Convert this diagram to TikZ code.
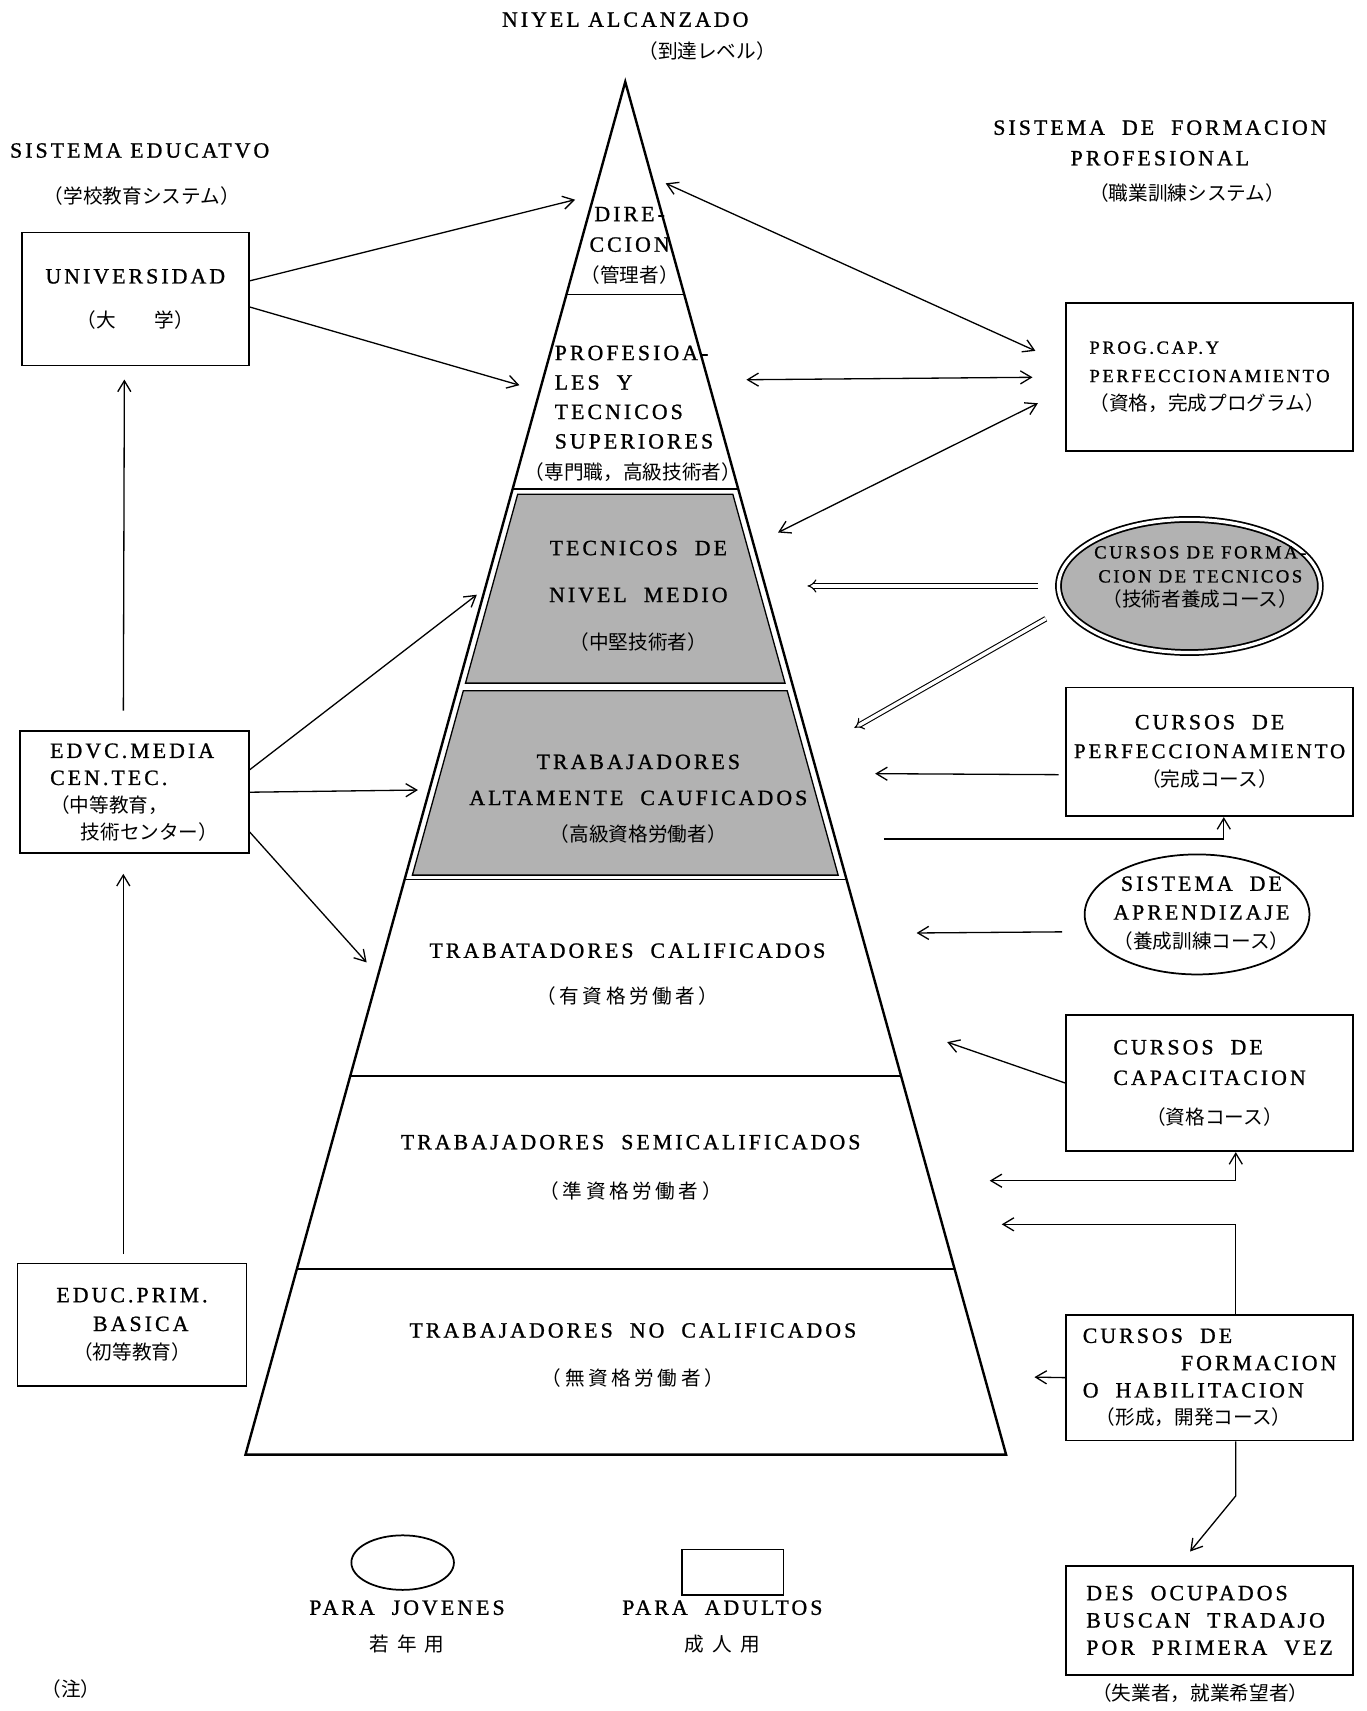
\documentclass[tikz,border=0pt]{standalone}
\usepackage{fontspec}
\setmainfont{Liberation Serif}[LetterSpace=14, FakeBold=1]
\newfontfamily\jpf{Noto Sans CJK JP}
\newfontfamily\jpw{Noto Sans CJK JP}[LetterSpace=18]
\newcommand\jt[1]{{\jpf\fontsize{9}{11}\selectfont #1}}
\newcommand\jw[1]{{\jpw\fontsize{9}{11}\selectfont #1}}
\usetikzlibrary{arrows.meta,shapes.geometric}

\tikzset{
  lab/.style={font=\fontsize{10}{#1}\selectfont, align=center, inner sep=0pt},
  lab/.default=13,
  box/.style={draw, line width=.8pt, inner sep=0pt},
  oval/.style={draw, ellipse, line width=.8pt, inner sep=0pt},
  arr/.style={->, line width=.6pt},
  dbl/.style={<->, line width=.6pt},
  hollow/.style={double, double distance=1.6pt, line width=.5pt, -{Implies[scale=1.4]}},
  shade/.style={fill=black!30, draw, line width=.6pt},
}

\begin{document}
\begin{tikzpicture}[x=.5pt,y=-.5pt,>={Straight Barb[length=5pt,width=6pt]}]
\useasboundingbox (0,0) rectangle (1252,1568);
%
% piramide
\coordinate (apex) at (573,75);
\coordinate (bl) at (225,1333);
\coordinate (br) at (922,1333);
\draw[shade] (474.4,453) -- (671.6,453) -- (719.4,626) -- (426.6,626) -- cycle;
\draw[shade] (424.6,633) -- (721.4,633) -- (768.1,802) -- (377.9,802) -- cycle;
\draw[line width=1.1pt] (apex) -- (bl) -- (br) -- cycle;
\draw[line width=.6pt] (519.1,270) -- (626.9,270);
\draw[line width=.6pt] (469.8,448) -- (676.2,448);
\draw[line width=.6pt] (370.8,806) -- (775.2,806);
\draw[line width=.6pt] (321,986) -- (825,986);
\draw[line width=.6pt] (272,1163) -- (874,1163);
%
\node[lab=14] (dir) at (577,225) {DIRE-\\CCION\\\jt{（管理者）}};
\node[lab=13.5, align=left, anchor=west] (prof) at (508,364) {PROFESIOA-\\LES\ \ Y\\TECNICOS\\SUPERIORES};
\node[lab] (profjp) at (580,433) {\jt{（専門職，高級技術者）}};
\node[lab=21.5] (tecm) at (585,546) {TECNICOS\ \ DE\\NIVEL\ \ MEDIO\\\jt{（中堅技術者）}};
\node[lab=16.5] (alta) at (585,732) {TRABAJADORES\\ALTAMENTE\ \ CAUFICADOS\\\jt{（高級資格労働者）}};
\node[lab=21] (calif) at (575,893) {TRABATADORES\ \ CALIFICADOS\\\jw{（有資格労働者）}};
\node[lab=22.5] (semi) at (578,1070) {TRABAJADORES\ \ SEMICALIFICADOS\\\jw{（準資格労働者）}};
\node[lab=22] (nocal) at (580,1242) {TRABAJADORES\ \ NO\ \ CALIFICADOS\\\jw{（無資格労働者）}};
%
% titulos
\node[lab] (lvl) at (573,18) {NIYEL\ ALCANZADO};
\node[lab] (lvljp) at (648,47) {\jt{（到達レベル）}};
\node[lab] (edu) at (128,138) {SISTEMA\ EDUCATVO};
\node[lab] (edujp) at (130,180) {\jt{（学校教育システム）}};
\node[lab=14] (fp) at (1063,131) {SISTEMA\ \ DE\ \ FORMACION\\PROFESIONAL};
\node[lab] (fpjp) at (1088,177) {\jt{（職業訓練システム）}};
%
% sistema educativo
\node[box, lab=20, minimum width=104pt, minimum height=61pt] (univ) at (124,274) {UNIVERSIDAD\\\jt{（大　　学）}};
\node[box, lab=12.4, align=left, minimum width=105pt, minimum height=56pt] (media) at (123,726) {EDVC.MEDIA\\CEN.TEC.\\\jt{（中等教育，}\\\hspace*{14pt}\jt{技術センター）}};
\node[box, lab=13.2, minimum width=105pt, minimum height=56pt] (prim) at (121,1214) {EDUC.PRIM.\\\hspace*{8pt}BASICA\\\jt{（初等教育）}};
%
% formacion profesional
\node[box, align=left, minimum width=131.5pt, minimum height=67.5pt, font=\fontsize{8.5}{13}\selectfont] (prog) at (1108.5,345.5) {PROG.CAP.Y\\PERFECCIONAMIENTO\\\jt{（資格，完成プログラム）}};
\node[oval, double, double distance=1.5pt, fill=black!30, minimum width=120pt, minimum height=61pt] (tecell) at (1090,537) {};
\node[lab=11, font=\fontsize{8.5}{11}\selectfont] (tectxt) at (1100,529) {CURSOS\ DE\ FORMA-\\CION\ DE\ TECNICOS\\\jt{（技術者養成コース）}};
\node[box, lab=13.2, minimum width=131.5pt, minimum height=59pt] (perf) at (1108.5,689) {CURSOS\ \ DE\\{\fontsize{9.6}{13.2}\selectfont PERFECCIONAMIENTO}\\\jt{（完成コース）}};
\node[oval, minimum width=103pt, minimum height=55pt] (aprend) at (1097,838) {};
\node[lab=13.2] (aprtxt) at (1101,837) {SISTEMA\ \ DE\\APRENDIZAJE\\\jt{（養成訓練コース）}};
\node[box, lab=14, align=left, minimum width=131.5pt, minimum height=62.5pt] (capac) at (1108.5,992.5) {CURSOS\ \ DE\\CAPACITACION\\[4pt]\hspace*{15pt}\jt{（資格コース）}};
\node[box, lab=12.5, align=left, minimum width=131.5pt, minimum height=57.5pt] (habil) at (1108.5,1262.5) {CURSOS\ \ DE\\\hspace*{45pt}FORMACION\\O\ \ HABILITACION\\\hspace*{6pt}\jt{（形成，開発コース）}};
\node[box, lab=12.5, align=left, minimum width=131.5pt, minimum height=50pt] (desoc) at (1108.5,1485) {DES\ \ OCUPADOS\\BUSCAN\ \ TRADAJO\\POR\ \ PRIMERA\ \ VEZ};
\node[lab] (desocjp) at (1100,1552) {\jt{（失業者，就業希望者）}};
%
% leyenda
\node[oval, minimum width=47pt, minimum height=25pt] (legov) at (369,1432) {};
\node[lab=17] (legjov) at (373,1491) {PARA\ \ JOVENES\\\jw{若 年 用}};
\node[box, minimum width=46.5pt, minimum height=21pt] (legbx) at (671.5,1441) {};
\node[lab=17] (legadu) at (662,1491) {PARA\ \ ADULTOS\\\jw{成 人 用}};
\node[lab] (note) at (65,1548) {\jt{（注）}};
%
% puntas sobre la piramide
\coordinate (a-dir) at (527,183);
\coordinate (a-prof) at (476,353);
\coordinate (a-tecm) at (437,545);
\coordinate (a-alta) at (383,724);
\coordinate (a-calif) at (336,882);
\coordinate (r-dir) at (610,168);
\coordinate (r-prof) at (684,348);
\coordinate (r-tecm) at (713,488);
\coordinate (r-tecm2) at (740,537);
\coordinate (r-alta) at (783,667);
\coordinate (r-alta2) at (802,709);
\coordinate (r-alta3) at (810,769);
\coordinate (r-calif) at (840,855);
\coordinate (r-calif2) at (868,955);
\coordinate (r-semi) at (907,1082);
\coordinate (r-semi2) at (918,1122);
\coordinate (r-nocal) at (948,1262);
%
% flechas izquierda
\draw[arr] (univ.9) -- (a-dir);
\draw[arr] (univ.-4) -- (a-prof);
\draw[arr, shorten <=9pt, shorten >=6pt] ([xshift=-5pt]media.north) -- ([xshift=-5pt]univ.south);
\draw[arr, shorten <=4pt, shorten >=9pt] ([xshift=-4pt]prim.north) -- ([xshift=-5pt]media.south);
\draw[arr] (media.11) -- (a-tecm);
\draw[arr] (media.east) -- (a-alta);
\draw[arr] (media.-19) -- (a-calif);
%
% flechas derecha
\draw[dbl, shorten >=15pt] (r-dir) -- (prog.175);
\draw[dbl, shorten >=15pt] (r-prof) -- (prog.west);
\draw[dbl, shorten >=14pt] (r-tecm) -- (prog.-175);
\draw[hollow, shorten <=9pt] (tecell.west) -- (r-tecm2);
\draw[hollow, shorten <=10pt] (tecell.190) -- (r-alta);
\draw[arr, shorten <=3pt] (perf.-171) -- (r-alta2);
\draw[arr] (r-alta3) -| ([xshift=6.5pt]perf.south);
\draw[arr, shorten <=12pt] (aprend.189) -- (r-calif);
\draw[arr] (capac.west) -- (r-calif2);
\draw[dbl] (r-semi) -| ([xshift=12pt]capac.south);
\draw[arr] ([xshift=12pt]habil.north) |- (r-semi2);
\draw[arr] (habil.west) -- (r-nocal);
\draw[arr, shorten >=8pt] ([xshift=12pt]habil.south) -- ++(0,50) -- ([xshift=-14pt]desoc.north);
%
\end{tikzpicture}
\end{document}
